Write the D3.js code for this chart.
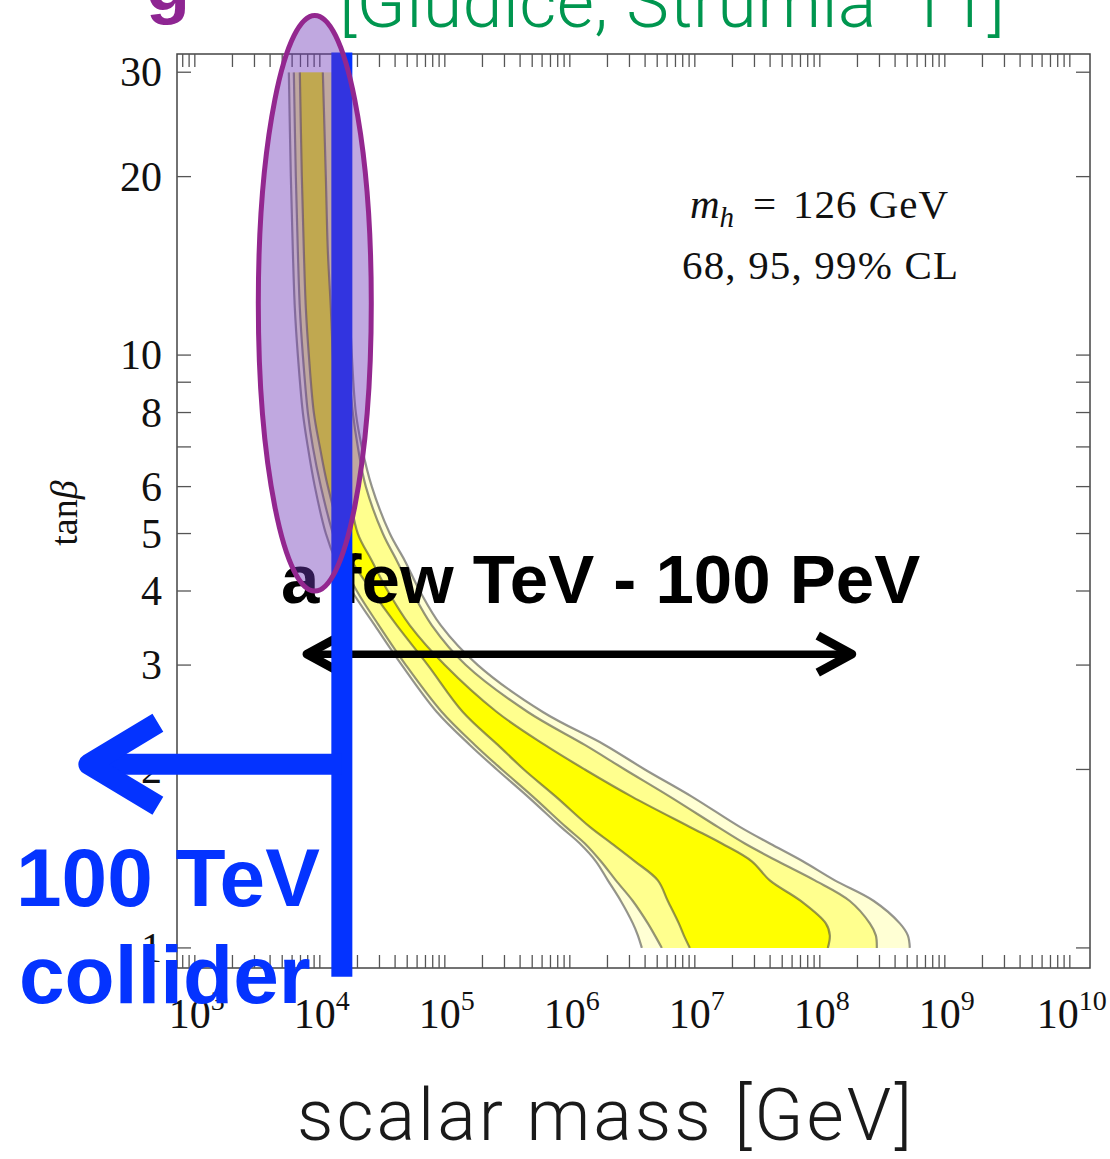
<!DOCTYPE html>
<html>
<head>
<meta charset="utf-8">
<script src="https://cdn.jsdelivr.net/npm/d3@7"></script>
<style>
  html, body { margin: 0; padding: 0; background: #fff; }
  svg { display: block; }
</style>
</head>
<body>
<script>
// Split SUSY: allowed tan(beta) against the scalar mass for m_h = 126 GeV,
// with 68/95/99% CL contours and the reach of a 100 TeV collider.

// tan(beta) levels at which each contour edge is sampled (top to bottom)
const tanBetaLevels = [30, 20, 15, 12, 10, 8, 7, 6, 5, 4.5, 4, 3.5, 3, 2.5, 2.2, 2, 1.8, 1.6, 1.5, 1.4, 1.3, 1.2, 1.1, 1.05, 1];

// log10(scalar mass / GeV) of the low-mass edge of each contour
const cl99Low = [3.752, 3.768, 3.784, 3.800, 3.824, 3.864, 3.904, 3.960, 4.048, 4.128, 4.256, 4.440, 4.656, 4.936, 5.200, 5.416, 5.664, 5.928, 6.080, 6.208, 6.304, 6.408, 6.504, 6.544, 6.576];
const cl95Low = [3.792, 3.808, 3.824, 3.840, 3.864, 3.904, 3.944, 4.008, 4.104, 4.176, 4.296, 4.472, 4.688, 4.976, 5.240, 5.456, 5.704, 5.968, 6.120, 6.248, 6.368, 6.504, 6.624, 6.680, 6.736];
const cl68Low = [3.840, 3.856, 3.872, 3.888, 3.912, 3.952, 4.000, 4.064, 4.168, 4.256, 4.416, 4.616, 4.864, 5.144, 5.424, 5.632, 5.888, 6.160, 6.336, 6.520, 6.704, 6.784, 6.872, 6.912, 6.960];
// log10(scalar mass / GeV) of the high-mass edge of each contour
const cl68High = [4.024, 4.048, 4.064, 4.088, 4.104, 4.128, 4.160, 4.224, 4.304, 4.416, 4.544, 4.720, 5.000, 5.416, 5.800, 6.120, 6.496, 6.960, 7.216, 7.456, 7.600, 7.848, 8.048, 8.080, 8.064];
const cl95High = [4.184, 4.192, 4.200, 4.208, 4.224, 4.264, 4.304, 4.368, 4.504, 4.616, 4.736, 4.896, 5.168, 5.664, 6.120, 6.440, 6.800, 7.184, 7.400, 7.664, 7.960, 8.240, 8.400, 8.448, 8.456];
const cl99High = [4.232, 4.232, 4.240, 4.240, 4.256, 4.288, 4.336, 4.416, 4.560, 4.680, 4.800, 4.968, 5.264, 5.784, 6.280, 6.600, 6.976, 7.360, 7.600, 7.864, 8.120, 8.432, 8.640, 8.704, 8.720];

// axis ranges and tick labels
const massRange = [720, 1.45e10];          // GeV
const tanBetaRange = [0.925, 32.2];
const massTickDecades = [3, 4, 5, 6, 7, 8, 9, 10];
const tanBetaTickLabels = [1, 2, 3, 4, 5, 6, 8, 10, 20, 30];

// annotations (GeV, tan(beta))
const colliderReach = 1.5e4;               // 100 TeV collider reach
const colliderLineSpan = [0.894, 32.4];
const colliderArrow = { tip: 142, tanBeta: 2.04 };
const rangeArrow = { from: 7.9e3, to: 1.8e8, tanBeta: 3.13 };
const highlight = { massFrom: 3.22e3, massTo: 2.58e4, tanBetaFrom: 4.0, tanBetaTo: 37.4 };

const W = 1110, H = 1159;
const frame = { left: 177, right: 1090, top: 54, bottom: 968 };

const svg = d3.select("body").append("svg").attr("width", W).attr("height", H);

const x = d3.scaleLog().domain(massRange).range([frame.left, frame.right]);
const y = d3.scaleLog().domain(tanBetaRange).range([frame.bottom, frame.top]);

const serif = "'Liberation Serif', 'Times New Roman', serif";
const sans = "'Liberation Sans', Arial, Helvetica, sans-serif";
const lightSans = "Roboto, 'Liberation Sans', sans-serif";
const blue = "#0433ff";

// ---- frame and ticks ----
const axes = svg.append("g");
axes.append("rect")
  .attr("x", frame.left).attr("y", frame.top)
  .attr("width", frame.right - frame.left).attr("height", frame.bottom - frame.top)
  .attr("fill", "none").attr("stroke", "#444").attr("stroke-width", 1.5);

const xTicks = x.ticks();
const yTicks = y.ticks();
const tickStyle = g => g.attr("stroke", "#555").attr("stroke-width", 1.3);

axes.append("g").call(tickStyle).selectAll("line").data(xTicks).join("line")
  .attr("x1", d => x(d)).attr("x2", d => x(d))
  .attr("y1", frame.bottom).attr("y2", frame.bottom - 13);
axes.append("g").call(tickStyle).selectAll("line").data(xTicks).join("line")
  .attr("x1", d => x(d)).attr("x2", d => x(d))
  .attr("y1", frame.top).attr("y2", frame.top + 13);
axes.append("g").call(tickStyle).selectAll("line").data(yTicks).join("line")
  .attr("x1", frame.left).attr("x2", frame.left + 14)
  .attr("y1", d => y(d)).attr("y2", d => y(d));
axes.append("g").call(tickStyle).selectAll("line").data(yTicks).join("line")
  .attr("x1", frame.right).attr("x2", frame.right - 14)
  .attr("y1", d => y(d)).attr("y2", d => y(d));

// x tick labels 10^n
const xl = axes.append("g").attr("font-family", serif).attr("fill", "#111");
massTickDecades.forEach(e => {
  const t = xl.append("text")
    .attr("x", x(Math.pow(10, e)) + 2).attr("y", 1028)
    .attr("text-anchor", "middle").attr("font-size", 42);
  t.append("tspan").text("10");
  t.append("tspan").attr("dy", -18).attr("font-size", 28).text(e);
});

// y tick labels
axes.append("g").attr("font-family", serif).attr("fill", "#111")
  .selectAll("text").data(tanBetaTickLabels).join("text")
  .attr("x", 162).attr("y", d => y(d) + 14)
  .attr("text-anchor", "end").attr("font-size", 42)
  .text(d => d);

// axis titles
const yTitle = svg.append("text")
  .attr("transform", "translate(77,513) rotate(-90)")
  .attr("text-anchor", "middle").attr("font-family", serif).attr("font-size", 38).attr("fill", "#111");
yTitle.append("tspan").text("tan");
yTitle.append("tspan").attr("font-style", "italic").text("β");

svg.append("text")
  .attr("x", 297).attr("y", 1140)
  .attr("font-family", lightSans).attr("font-weight", 300)
  .attr("font-size", 72).attr("fill", "#1a1a1a")
  .attr("textLength", 615).attr("lengthAdjust", "spacing")
  .text("scalar mass [GeV]");

// ---- confidence-level contours ----
svg.append("clipPath").attr("id", "dataRange").append("rect")
  .attr("x", frame.left).attr("width", frame.right - frame.left)
  .attr("y", y(30)).attr("height", y(1) - y(30));

const edge = logm => logm.map((v, i) => [Math.pow(10, v), tanBetaLevels[i]]);
const curve = d3.line().x(d => x(d[0])).y(d => y(d[1])).curve(d3.curveCatmullRom.alpha(0.5));
const bandPath = (lo, hi) => {
  const a = curve(edge(lo));
  const b = curve(edge(hi).reverse());
  return a + "L" + b.substring(1) + "Z";
};

const contours = [
  { lo: cl99Low, hi: cl99High, fill: "#ffffd4" },
  { lo: cl95Low, hi: cl95High, fill: "#ffff8e" },
  { lo: cl68Low, hi: cl68High, fill: "#ffff00" }
];
const cg = svg.append("g").attr("clip-path", "url(#dataRange)");
contours.forEach(c => {
  cg.append("path").attr("d", bandPath(c.lo, c.hi)).attr("fill", c.fill);
});
contours.forEach(c => {
  [c.lo, c.hi].forEach(side => {
    cg.append("path").attr("d", curve(edge(side)))
      .attr("fill", "none").attr("stroke", "rgba(60,60,60,0.55)").attr("stroke-width", 2.2);
  });
});

// ---- plot legend text ----
const note = svg.append("g").attr("font-family", serif).attr("font-size", 41).attr("fill", "#111");
const l1 = note.append("text").attr("y", 218);
l1.append("tspan").attr("x", 690).attr("font-style", "italic").text("m");
l1.append("tspan").attr("font-style", "italic").attr("font-size", 29).attr("dy", 9).text("h");
l1.append("tspan").attr("x", 753).attr("dy", -9).text("=");
l1.append("tspan").attr("x", 793).attr("textLength", 155).attr("lengthAdjust", "spacing").text("126 GeV");
note.append("text").attr("x", 682).attr("y", 279)
  .attr("textLength", 276).attr("lengthAdjust", "spacing")
  .text("68, 95, 99% CL");

// ---- mass range annotation ----
svg.append("text")
  .attr("x", 281).attr("y", 603)
  .attr("font-family", sans).attr("font-weight", "bold").attr("font-size", 69).attr("fill", "#000")
  .text("a few TeV - 100 PeV");

const ra = svg.append("g").attr("fill", "none").attr("stroke", "#000");
const ry0 = y(rangeArrow.tanBeta);
const rx0 = x(rangeArrow.from), rx1 = x(rangeArrow.to);
ra.append("line").attr("x1", rx0 + 3).attr("x2", rx1 - 3).attr("y1", ry0).attr("y2", ry0).attr("stroke-width", 7.5);
ra.append("path").attr("d", `M${rx1 - 34},${ry0 - 18.5}L${rx1},${ry0}L${rx1 - 34},${ry0 + 18.5}`)
  .attr("stroke-width", 9).attr("stroke-linejoin", "round");
ra.append("path").attr("d", `M${rx0 + 34},${ry0 - 18.5}L${rx0},${ry0}L${rx0 + 34},${ry0 + 18.5}`)
  .attr("stroke-width", 9).attr("stroke-linejoin", "round");

// ---- 100 TeV collider reach ----
const cx = x(colliderReach);
const coll = svg.append("g").attr("fill", "none").attr("stroke", blue).attr("stroke-width", 21);
coll.append("line").attr("x1", cx).attr("x2", cx)
  .attr("y1", y(colliderLineSpan[1])).attr("y2", y(colliderLineSpan[0]));
const ay = y(colliderArrow.tanBeta), ax = x(colliderArrow.tip);
coll.append("line").attr("x1", cx).attr("x2", ax).attr("y1", ay).attr("y2", ay);
coll.append("path").attr("d", `M${ax + 69},${ay - 41.5}L${ax},${ay}L${ax + 69},${ay + 41.5}`)
  .attr("stroke-linejoin", "round");

const ct = svg.append("g").attr("font-family", sans).attr("font-weight", "bold").attr("font-size", 82).attr("fill", blue);
ct.append("text").attr("x", 16).attr("y", 906).text("100 TeV");
ct.append("text").attr("x", 19).attr("y", 1003).text("collider");

// ---- highlighted low-mass region ----
const ex0 = x(highlight.massFrom), ex1 = x(highlight.massTo);
const ey0 = y(highlight.tanBetaTo), ey1 = y(highlight.tanBetaFrom);
svg.append("ellipse")
  .attr("cx", (ex0 + ex1) / 2).attr("cy", (ey0 + ey1) / 2)
  .attr("rx", (ex1 - ex0) / 2).attr("ry", (ey1 - ey0) / 2)
  .attr("fill", "rgb(110,55,184)").attr("fill-opacity", 0.435)
  .attr("stroke", "#93278f").attr("stroke-width", 5);

// ---- heading ----
svg.append("text").attr("x", 146).attr("y", 10)
  .attr("font-family", sans).attr("font-weight", "bold").attr("font-size", 72).attr("fill", "#8e2592")
  .text("g");
svg.append("text").attr("x", 339).attr("y", 27)
  .attr("font-family", lightSans).attr("font-weight", 300)
  .attr("font-size", 72).attr("fill", "#00964f")
  .attr("textLength", 666).attr("lengthAdjust", "spacing")
  .text("[Giudice, Strumia '11]");
</script>
</body>
</html>
